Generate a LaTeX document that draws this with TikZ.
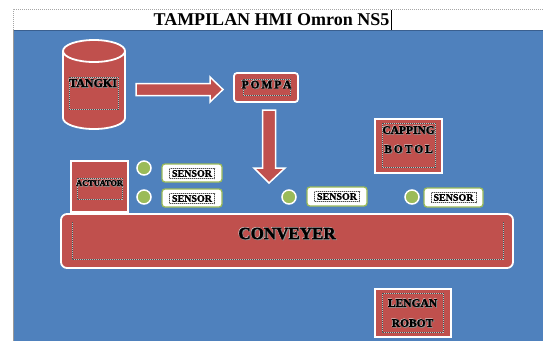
\documentclass[tikz,border=0pt]{standalone}
\usepackage{fontspec}
\setmainfont{Liberation Serif}
\newfontfamily\heavyserif{Liberation Serif}[BoldFeatures={FakeBold=1.6}]
\usetikzlibrary{positioning}

\definecolor{panelblue}{HTML}{4F81BD}
\definecolor{paneledge}{HTML}{3A5F8F}
\definecolor{blockred}{HTML}{C0504D}
\definecolor{leafgreen}{HTML}{9BBB59}

\tikzset{
  redblock/.style={fill=blockred, draw=white, line width=1.8pt},
  sensorbox/.style={fill=white, draw=leafgreen, line width=1.3pt, rounded corners=3pt},
  lamp/.style={circle, fill=leafgreen, draw=white, line width=1.5pt, minimum size=14pt, inner sep=0pt},
  % text-frame guide: light base line with dark dots over it
  guide/.style={draw=white!75!black, line width=0.6pt,
    postaction={draw=black!70, line width=0.6pt, dash pattern=on 1pt off 1pt}},
  label/.style={inner sep=0pt, align=center},
}

% label with a soft embossed look: light rim, grey drop shadow, black face
\newcommand{\embossed}[4]{%
  \node[label, text=white!85!black, font=\heavyserif\fontsize{#3}{#3}\selectfont\bfseries] at ([xshift=-0.5pt,yshift=0.5pt]#1) {#4};
  \node[label, text=black!45, font=\heavyserif\fontsize{#3}{#3}\selectfont\bfseries] at ([xshift=0.9pt,yshift=-0.9pt]#1) {#4};
  \node[label, font=\heavyserif\fontsize{#3}{#3}\selectfont\bfseries] (#2) at (#1) {#4};
}

\begin{document}
\begin{tikzpicture}[x=1pt, y=-1pt]
  \useasboundingbox (0,0) rectangle (543,341);
  \fill[white] (0,0) rectangle (543,341);

  % title strip
  \draw[black!35, line width=0.8pt, dash pattern=on 1pt off 1pt] (13,30) -- (13,9) -- (543,9);
  \node[font=\fontsize{18}{18}\selectfont\bfseries, inner sep=0pt] (title) at (271.5,20) {TAMPILAN HMI Omron NS5};
  \draw[black, line width=0.6pt] (391,10) -- (391,30);

  % HMI panel
  \fill[panelblue] (13,30) rectangle (543,341);
  \draw[paneledge, line width=1.2pt] (13,30.6) -- (543,30.6);
  \draw[black!40, line width=0.8pt] (13,30) -- (13,341);

  % tank (cylinder)
  \path[redblock] (63,51) -- (63,118)
    arc[start angle=180, end angle=360, x radius=31pt, y radius=11pt]
    -- (125,51)
    arc[start angle=0, end angle=180, x radius=31pt, y radius=11pt] -- cycle;
  \draw[white, line width=1.8pt] (63,51)
    arc[start angle=180, end angle=360, x radius=31pt, y radius=11pt];
  \draw[guide] (69,77) rectangle (118,109);
  \embossed{93,83}{tangki}{12}{TANGKI}

  % pump
  \draw[redblock, rounded corners=3pt] (234,73) rectangle (298,102);
  \draw[guide] (243,79) rectangle (290,95);
  \embossed{266.5,84.5}{pompa}{11.5}{P\,O\,M\,P\,A}

  % flow arrow tank -> pump
  \path[redblock, line width=1.5pt] (136,83.5) -- (210,83.5) -- (210,77) -- (223,89.5)
    -- (210,102) -- (210,95.5) -- (136,95.5) -- cycle;

  % flow arrow pump -> conveyor
  \path[redblock, line width=1.5pt] (262.5,110) -- (275.5,110) -- (275.5,168) -- (285,168)
    -- (269,183) -- (254,168) -- (262.5,168) -- cycle;

  % actuator
  \draw[redblock] (71,161) rectangle (128,212);
  \draw[guide] (77,178) rectangle (122,199);
  \embossed{99.5,183}{actuator}{8.3}{ACTUATOR}

  % capping station
  \draw[redblock] (375,119) rectangle (442,173);
  \draw[guide] (382,123) rectangle (435,167);
  \embossed{408.5,130}{capping}{11.5}{CAPPING}
  \embossed{408.5,149}{botol}{11.5}{B\,O\,T\,O\,L}

  % sensors
  \node[lamp] (l1) at (144,168) {};
  \node[lamp] (l2) at (144,197) {};
  \node[lamp] (l3) at (289,197) {};
  \node[lamp] (l4) at (412,197) {};

  \draw[sensorbox] (162,164) rectangle (222,182);
  \draw[sensorbox] (162,189) rectangle (222,207);
  \draw[sensorbox] (307,187) rectangle (367,206);
  \draw[sensorbox] (424,188) rectangle (483,207);
  \draw[guide] (169.5,168.5) rectangle (214.5,178.5);
  \draw[guide] (169.5,193.5) rectangle (214.5,203.5);
  \draw[guide] (314.5,191.5) rectangle (359.5,201.5);
  \draw[guide] (431,192.5) rectangle (476,202.5);
  \node[label, font=\heavyserif\fontsize{10}{10}\selectfont\bfseries] (s1) at (192,173.5) {SENSOR};
  \node[label, font=\heavyserif\fontsize{10}{10}\selectfont\bfseries] (s2) at (192,198.5) {SENSOR};
  \node[label, font=\heavyserif\fontsize{10}{10}\selectfont\bfseries] (s3) at (337,196.5) {SENSOR};
  \node[label, font=\heavyserif\fontsize{10}{10}\selectfont\bfseries] (s4) at (453.5,197.5) {SENSOR};

  % conveyor
  \draw[redblock, rounded corners=6pt] (61,214) rectangle (513,268);
  \draw[guide] (72,222) -- (72,259) -- (503,259) -- (503,222);
  \embossed{287,233.5}{conveyer}{17}{CONVEYER}

  % robot arm
  \draw[redblock] (375,289) rectangle (451,337);
  \draw[guide] (382,293) rectangle (443,332);
  \embossed{412.5,303}{lengan}{11.5}{LENGAN}
  \embossed{412.5,323}{robot}{11.5}{ROBOT}
\end{tikzpicture}
\end{document}
